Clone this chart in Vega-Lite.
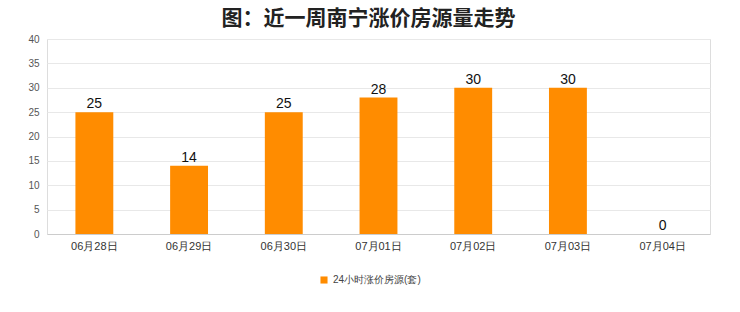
{
  "$schema": "https://vega.github.io/schema/vega-lite/v6.json",
  "autosize": {"type": "none"},
  "width": 663,
  "height": 195,
  "padding": {"left": 47, "top": 39, "right": 30, "bottom": 78},
  "background": "white",
  "title": {
    "text": "图：近一周南宁涨价房源量走势",
    "fontSize": 21,
    "fontWeight": "bold",
    "color": "#222",
    "font": "Noto Sans CJK SC",
    "anchor": "middle",
    "dx": -10,
    "offset": 5
  },
  "config": {
    "view": {"stroke": "#dddddd"},
    "axis": {"domainColor": "#cccccc", "gridColor": "#e8e8e8", "tickColor": "#cccccc"}
  },
  "data": {
    "values": [
      {"date": "06月28日", "value": 25, "series": "24小时涨价房源(套)"},
      {"date": "06月29日", "value": 14, "series": "24小时涨价房源(套)"},
      {"date": "06月30日", "value": 25, "series": "24小时涨价房源(套)"},
      {"date": "07月01日", "value": 28, "series": "24小时涨价房源(套)"},
      {"date": "07月02日", "value": 30, "series": "24小时涨价房源(套)"},
      {"date": "07月03日", "value": 30, "series": "24小时涨价房源(套)"},
      {"date": "07月04日", "value": 0, "series": "24小时涨价房源(套)"}
    ]
  },
  "encoding": {
    "x": {
      "field": "date", "type": "nominal", "sort": null,
      "scale": {"paddingInner": 0.6, "paddingOuter": 0.3},
      "axis": {"title": null, "labelAngle": 0, "labelFontSize": 11, "labelColor": "#333", "ticks": false, "labelPadding": 6, "domain": true}
    },
    "y": {
      "field": "value", "type": "quantitative",
      "scale": {"domain": [0, 40]},
      "axis": {"title": null, "values": [0,5,10,15,20,25,30,35,40], "labelFontSize": 10, "labelColor": "#555", "ticks": false, "labelPadding": 8, "domain": false, "grid": true}
    }
  },
  "layer": [
    {
      "mark": {"type": "bar", "color": "#FF8C00"},
      "encoding": {
        "color": {
          "field": "series", "type": "nominal",
          "scale": {"range": ["#FF8C00"]},
          "legend": {"title": null, "orient": "none", "legendX": 272, "legendY": 236, "symbolType": "square", "symbolSize": 50, "labelFontSize": 10, "labelColor": "#444", "direction": "horizontal"}
        }
      }
    },
    {
      "mark": {"type": "text", "dy": -8, "fontSize": 14, "color": "#111"},
      "encoding": {"text": {"field": "value", "type": "quantitative"}}
    }
  ]
}
